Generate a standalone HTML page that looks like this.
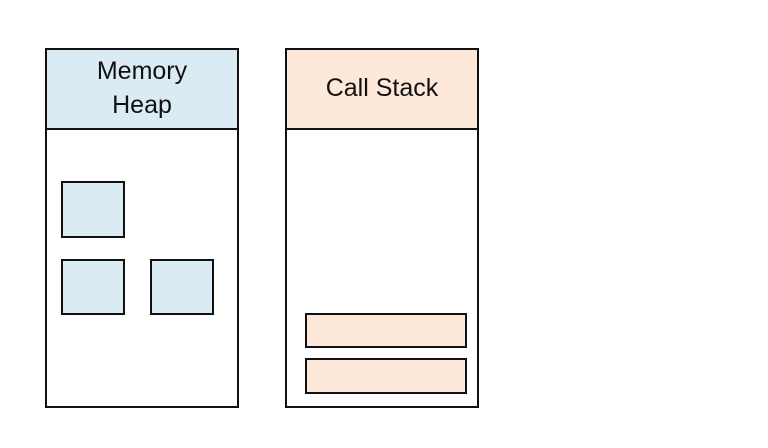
<!DOCTYPE html>
<html><head><style>body{margin:0;background:#fff}</style></head><body>
<svg width="768" height="448" xmlns="http://www.w3.org/2000/svg" style="display:block">
<g stroke="#111" stroke-width="2">
<rect x="46" y="49" width="192" height="358" fill="#fff"/>
<rect x="46" y="49" width="192" height="80" fill="#dbebf3"/>
<rect x="286" y="49" width="192" height="358" fill="#fff"/>
<rect x="286" y="49" width="192" height="80" fill="#fde8da"/>
<rect x="62" y="182" width="62" height="55" fill="#dbebf3"/>
<rect x="62" y="260" width="62" height="54" fill="#dbebf3"/>
<rect x="151" y="260" width="62" height="54" fill="#dbebf3"/>
<rect x="306" y="314" width="160" height="33" fill="#fde8da"/>
<rect x="306" y="359" width="160" height="34" fill="#fde8da"/>
</g>
<g font-family="Liberation Sans, sans-serif" font-size="25" fill="#111" text-anchor="middle">
<text x="142" y="79">Memory</text>
<text x="142" y="113">Heap</text>
<text x="382" y="96">Call Stack</text>
</g>
</svg>
</body></html>
